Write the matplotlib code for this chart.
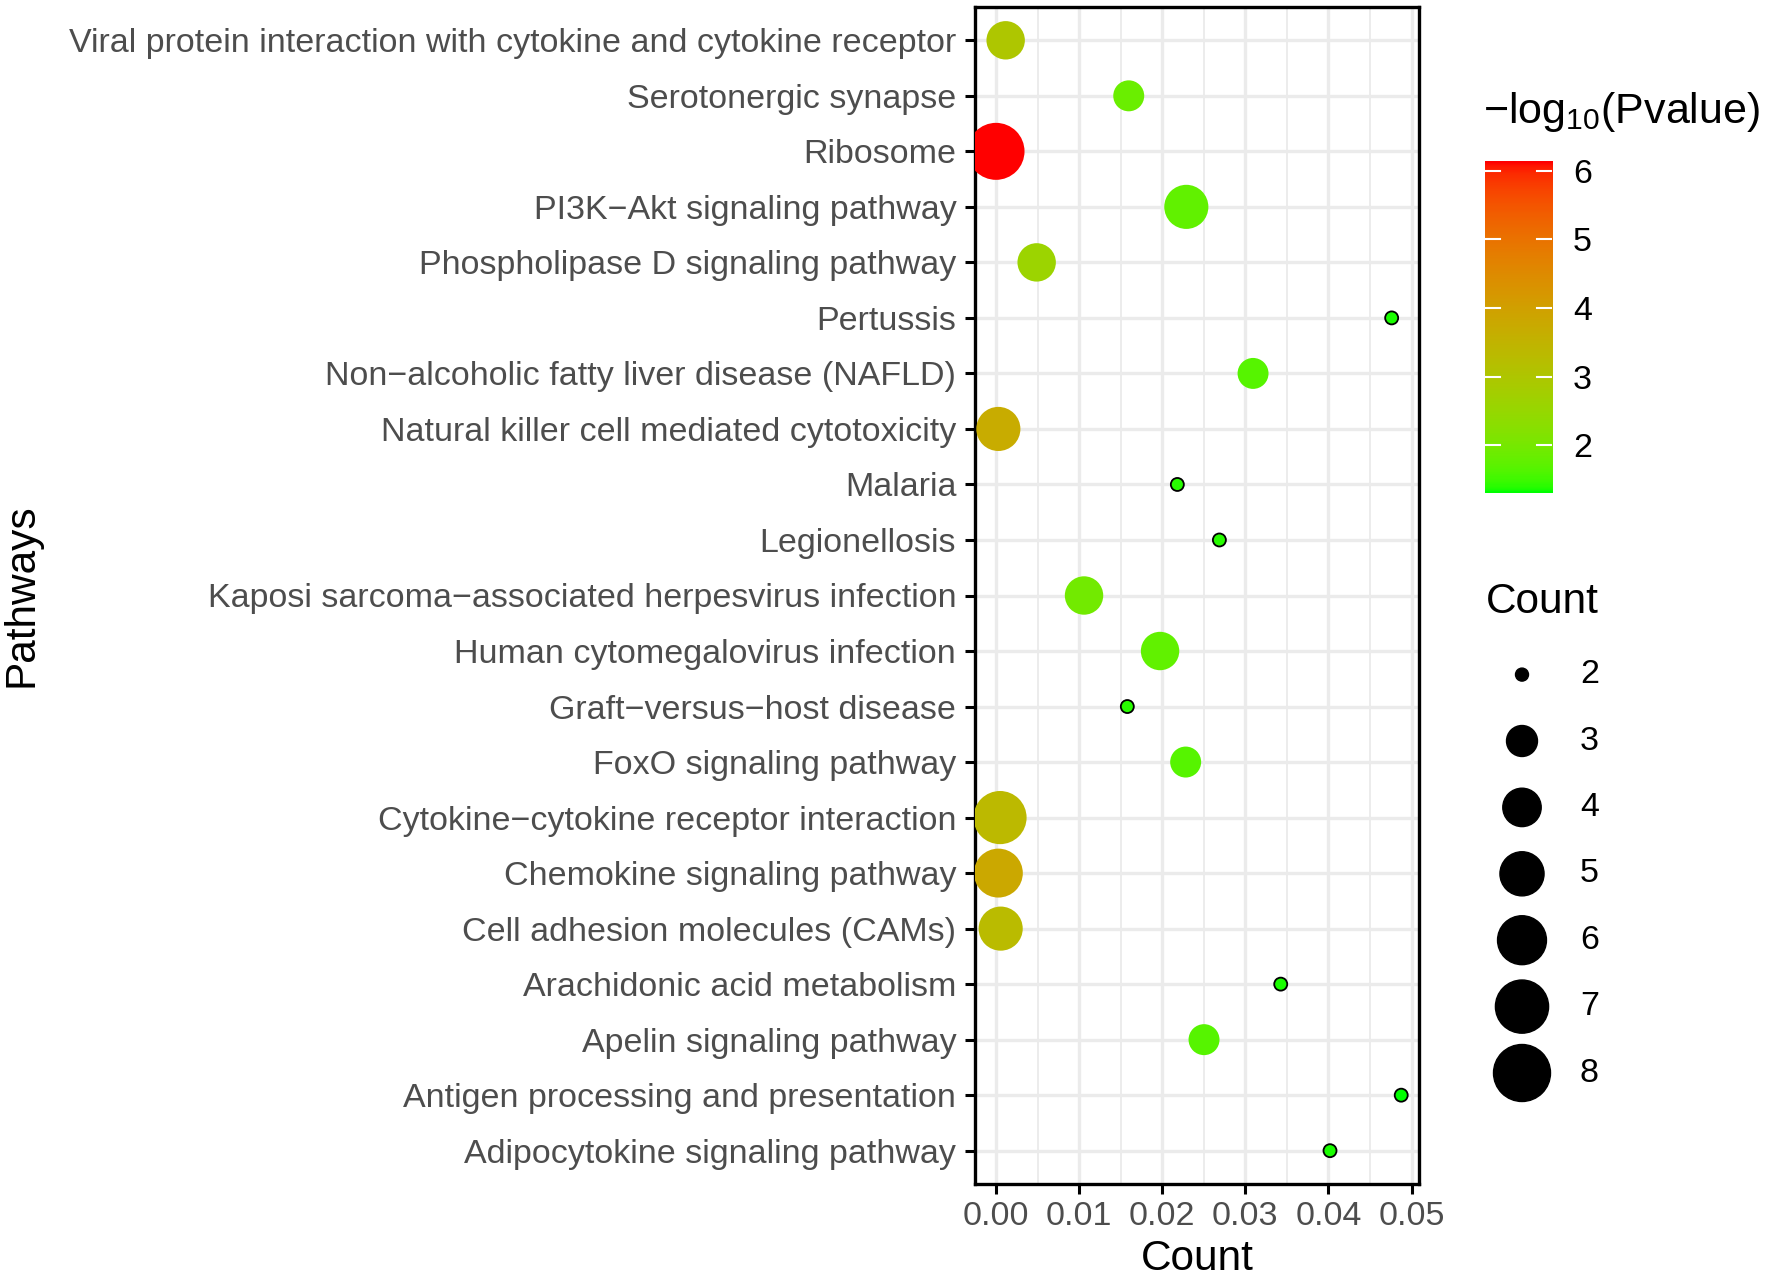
import numpy as np
import matplotlib
matplotlib.use('Agg')
import matplotlib.pyplot as plt
from matplotlib.colors import ListedColormap, Normalize
from matplotlib.ticker import MultipleLocator

plt.rcParams['font.family'] = ['Liberation Sans', 'DejaVu Sans']
plt.rcParams['mathtext.fontset'] = 'custom'
plt.rcParams['mathtext.rm'] = 'Liberation Sans'

# data, top row first
pathways = [
    "Viral protein interaction with cytokine and cytokine receptor",
    "Serotonergic synapse",
    "Ribosome",
    "PI3K\u2212Akt signaling pathway",
    "Phospholipase D signaling pathway",
    "Pertussis",
    "Non\u2212alcoholic fatty liver disease (NAFLD)",
    "Natural killer cell mediated cytotoxicity",
    "Malaria",
    "Legionellosis",
    "Kaposi sarcoma\u2212associated herpesvirus infection",
    "Human cytomegalovirus infection",
    "Graft\u2212versus\u2212host disease",
    "FoxO signaling pathway",
    "Cytokine\u2212cytokine receptor interaction",
    "Chemokine signaling pathway",
    "Cell adhesion molecules (CAMs)",
    "Arachidonic acid metabolism",
    "Apelin signaling pathway",
    "Antigen processing and presentation",
    "Adipocytokine signaling pathway",
]
ratio = [0.00116, 0.01597, 0.0, 0.02290, 0.00489, 0.04761, 0.03093, 0.00028,
         0.02182, 0.02688, 0.01059, 0.01974, 0.01580, 0.02282, 0.00048, 0.00028,
         0.00056, 0.03426, 0.02503, 0.04876, 0.04019]
count = [4, 3, 8, 5, 4, 2, 3, 5, 2, 2, 4, 4, 2, 3, 7, 6, 5, 2, 3, 2, 2]
logp = [3.0, 1.85, 6.14, 1.75, 2.6, 1.35, 1.65, 3.7, 1.4, 1.4, 1.95, 1.75, 1.4, 1.65,
        3.35, 3.8, 3.3, 1.35, 1.65, 1.31, 1.35]
size_breaks = [2, 3, 4, 5, 6, 7, 8]
color_ticks = [2, 3, 4, 5, 6]

W, H = 1772, 1279

# green -> red through CIELAB like ggplot
M = np.array([[0.4124, 0.3576, 0.1805], [0.2126, 0.7152, 0.0722], [0.0193, 0.1192, 0.9505]])
WP = np.array([0.95047, 1.0, 1.08883])


def to_lab(rgb):
    c = np.asarray(rgb, float)
    c = np.where(c <= 0.04045, c / 12.92, ((c + 0.055) / 1.055) ** 2.4)
    t = (M @ c) / WP
    f = np.where(t > (6 / 29) ** 3, np.cbrt(t), t / (3 * (6 / 29) ** 2) + 4 / 29)
    return np.array([116 * f[1] - 16, 500 * (f[0] - f[1]), 200 * (f[1] - f[2])])


def to_rgb(lab):
    L, a, b = lab
    fy = (L + 16) / 116
    f = np.array([fy + a / 500, fy, fy - b / 200])
    t = np.where(f > 6 / 29, f ** 3, 3 * (6 / 29) ** 2 * (f - 4 / 29))
    c = np.linalg.inv(M) @ (t * WP)
    c = np.clip(c, 0, 1)
    c = np.where(c <= 0.0031308, 12.92 * c, 1.055 * c ** (1 / 2.4) - 0.055)
    return np.clip(c, 0, 1)


lo, hi = to_lab([0, 1, 0]), to_lab([1, 0, 0])
cmap = ListedColormap([to_rgb(lo + (hi - lo) * t) for t in np.linspace(0, 1, 256)])
norm = Normalize(vmin=1.31, vmax=6.14)


def diam(c):
    return 13 + 44 * np.sqrt((np.asarray(c, float) - 2) / 6)


def area(c):
    return (diam(c) * 0.72) ** 2


fig = plt.figure(figsize=(W / 100, H / 100), dpi=100)
ax = fig.add_axes([975 / W, 1 - 1184 / H, (1419 - 975) / W, (1184 - 7) / H])

n = len(pathways)
ypos = np.arange(n)[::-1]
cnt = np.array(count)
edge = ['black' if c == 2 else 'none' for c in cnt]
ax.scatter(ratio, ypos, s=area(cnt), c=cmap(norm(logp)), edgecolors=edge,
           linewidths=1.3, zorder=3)

ax.set_xlim(-0.00253, 0.0509)
ax.set_ylim(-0.6, n - 0.4)
ax.set_yticks(ypos)
ax.set_yticklabels(pathways)
ax.set_xticks([0, 0.01, 0.02, 0.03, 0.04, 0.05])
ax.set_xticklabels(['0.00', '0.01', '0.02', '0.03', '0.04', '0.05'])
ax.xaxis.set_minor_locator(MultipleLocator(0.005))
ax.set_axisbelow(True)
ax.grid(which='major', color='#EBEBEB', linewidth=2.4)
ax.grid(which='minor', axis='x', color='#EBEBEB', linewidth=1.3)
ax.tick_params(which='major', length=7.5, width=2.2, color='black',
               labelsize=24.5, labelcolor='#4D4D4D')
ax.tick_params(axis='y', pad=6)
ax.tick_params(axis='x', pad=5)
ax.tick_params(which='minor', length=0)
for sp in ax.spines.values():
    sp.set_linewidth(2.4)
    sp.set_color('black')

fig.text(1197 / W, 1 - 1270 / H, 'Count', fontsize=30.5, ha='center', va='baseline')
fig.text(22 / W, 1 - 595 / H, 'Pathways', fontsize=30.5, ha='center', va='center',
         rotation=90)

# colour bar
cax = fig.add_axes([1485 / W, 1 - 492.7 / H, 67 / W, 331.7 / H])
grad = np.linspace(norm.vmin, norm.vmax, 300).reshape(-1, 1)
cax.imshow(grad, cmap=cmap, norm=norm, aspect='auto', origin='lower',
           extent=[0, 1, norm.vmin, norm.vmax])
for t in color_ticks:
    cax.plot([0, 0.22], [t, t], color='white', lw=1.5)
    cax.plot([0.78, 1], [t, t], color='white', lw=1.5)
cax.set_xlim(0, 1)
cax.set_ylim(norm.vmin, norm.vmax)
cax.set_xticks([])
cax.yaxis.tick_right()
cax.set_yticks(color_ticks)
cax.tick_params(axis='y', length=0, pad=15, labelsize=24.5)
for sp in cax.spines.values():
    sp.set_visible(False)
fig.text(1483 / W, 1 - 123 / H, r'$\mathregular{-log_{10}(Pvalue)}$', fontsize=31,
         ha='left', va='baseline')

# size legend
lax = fig.add_axes([0, 0, 1, 1], facecolor='none')
lax.set_xlim(0, W)
lax.set_ylim(H, 0)
lax.axis('off')
ly = 674.6 + 66.4 * np.arange(len(size_breaks))
lax.scatter([1522] * len(size_breaks), ly, s=area(size_breaks), color='black')
for yy, b in zip(ly, size_breaks):
    lax.text(1580, yy, str(b), fontsize=24.5, ha='left', va='center')
fig.text(1486 / W, 1 - 613 / H, 'Count', fontsize=30.5, ha='left', va='baseline')

fig.savefig('out.png', dpi=100)
